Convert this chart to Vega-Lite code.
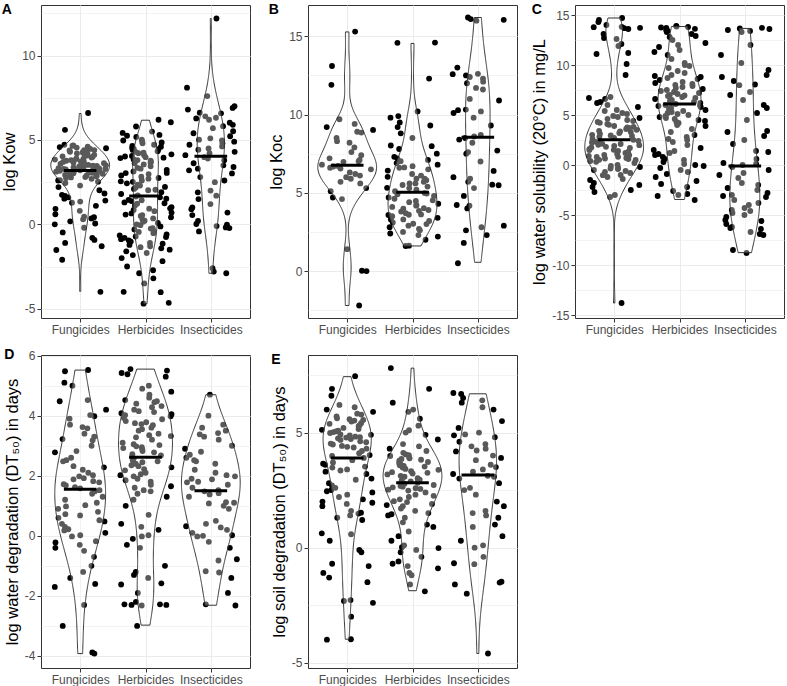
{
"$schema": "https://vega.github.io/schema/vega-lite/v6.json",
"padding": {"left": 1, "top": 2, "right": 0, "bottom": 0},
"background": "white",
"columns": 3,
"spacing": {"row": 37, "column": 58},
"bounds": "flush",
"config": {
  "font": "Liberation Sans",
  "view": {"stroke": "#333333", "strokeWidth": 1},
  "axis": {"labelFont": "Liberation Sans", "labelFontSize": 12, "labelColor": "#4D4D4D", "titleFont": "Liberation Sans", "titleFontSize": 16.5, "titleFontWeight": "normal", "titleColor": "#000000", "tickColor": "#333333", "tickSize": 4, "domain": false, "gridColor": "#EBEBEB", "gridWidth": 1, "labelPadding": 2, "labelOverlap": false, "labelFlush": false, "titlePadding": 4},
  "title": {"font": "Liberation Sans", "fontSize": 14, "fontWeight": "bold", "anchor": "start", "frame": "bounds", "offset": -12, "color": "#000000"}
},
"datasets": {
"A": [
{"g":"F","v":6.6},{"g":"F","v":5.6},{"g":"F","v":4.72},{"g":"F","v":4.66},{"g":"F","v":4.6},{"g":"F","v":4.58},{"g":"F","v":4.51},{"g":"F","v":4.47},{"g":"F","v":4.4},{"g":"F","v":4.38},{"g":"F","v":4.3},{"g":"F","v":4.27},{"g":"F","v":4.21},{"g":"F","v":4.15},{"g":"F","v":4.12},{"g":"F","v":4.03},{"g":"F","v":4.0},{"g":"F","v":3.96},{"g":"F","v":3.9},{"g":"F","v":3.84},{"g":"F","v":3.81},{"g":"F","v":3.77},{"g":"F","v":3.7},{"g":"F","v":3.66},{"g":"F","v":3.62},{"g":"F","v":3.55},{"g":"F","v":3.52},{"g":"F","v":3.48},{"g":"F","v":3.44},{"g":"F","v":3.41},{"g":"F","v":3.38},{"g":"F","v":3.36},{"g":"F","v":3.31},{"g":"F","v":3.29},{"g":"F","v":3.25},{"g":"F","v":3.22},{"g":"F","v":3.2},{"g":"F","v":3.14},{"g":"F","v":3.1},{"g":"F","v":3.06},{"g":"F","v":3.0},{"g":"F","v":2.93},{"g":"F","v":2.88},{"g":"F","v":2.8},{"g":"F","v":2.74},{"g":"F","v":2.6},{"g":"F","v":2.53},{"g":"F","v":2.45},{"g":"F","v":2.3},{"g":"F","v":2.21},{"g":"F","v":2.02},{"g":"F","v":1.83},{"g":"F","v":1.75},{"g":"F","v":1.68},{"g":"F","v":1.6},{"g":"F","v":1.52},{"g":"F","v":1.41},{"g":"F","v":1.35},{"g":"F","v":1.28},{"g":"F","v":1.1},{"g":"F","v":0.92},{"g":"F","v":0.8},{"g":"F","v":0.6},{"g":"F","v":0.45},{"g":"F","v":0.42},{"g":"F","v":0.35},{"g":"F","v":0.3},{"g":"F","v":0.18},{"g":"F","v":0.05},{"g":"F","v":0.0},{"g":"F","v":-0.2},{"g":"F","v":-0.48},{"g":"F","v":-0.8},{"g":"F","v":-0.92},{"g":"F","v":-1.1},{"g":"F","v":-1.3},{"g":"F","v":-1.52},{"g":"F","v":-2.1},{"g":"F","v":-4.0},{"g":"F","v":3.9},{"g":"F","v":4.2},{"g":"F","v":3.5},{"g":"F","v":4.4},{"g":"F","v":3.7},{"g":"F","v":2.62},{"g":"F","v":2.7},{"g":"F","v":2.78},{"g":"F","v":2.85},{"g":"F","v":2.9},{"g":"F","v":2.97},{"g":"F","v":3.03},{"g":"F","v":3.08},{"g":"F","v":3.12},{"g":"F","v":3.17},{"g":"F","v":3.28},{"g":"F","v":3.33},{"g":"F","v":3.46},{"g":"F","v":3.58},{"g":"F","v":3.72},{"g":"F","v":3.88},{"g":"F","v":4.08},{"g":"F","v":4.33},{"g":"F","v":4.55},{"g":"F","v":4.68},
{"g":"H","v":6.2},{"g":"H","v":6.05},{"g":"H","v":5.8},{"g":"H","v":5.5},{"g":"H","v":5.42},{"g":"H","v":5.3},{"g":"H","v":5.18},{"g":"H","v":5.02},{"g":"H","v":4.97},{"g":"H","v":4.9},{"g":"H","v":4.8},{"g":"H","v":4.72},{"g":"H","v":4.65},{"g":"H","v":4.6},{"g":"H","v":4.52},{"g":"H","v":4.48},{"g":"H","v":4.41},{"g":"H","v":4.33},{"g":"H","v":4.3},{"g":"H","v":4.22},{"g":"H","v":4.15},{"g":"H","v":4.1},{"g":"H","v":4.02},{"g":"H","v":3.98},{"g":"H","v":3.93},{"g":"H","v":3.85},{"g":"H","v":3.81},{"g":"H","v":3.78},{"g":"H","v":3.7},{"g":"H","v":3.62},{"g":"H","v":3.55},{"g":"H","v":3.44},{"g":"H","v":3.35},{"g":"H","v":3.22},{"g":"H","v":3.13},{"g":"H","v":3.04},{"g":"H","v":2.98},{"g":"H","v":2.9},{"g":"H","v":2.82},{"g":"H","v":2.75},{"g":"H","v":2.71},{"g":"H","v":2.6},{"g":"H","v":2.52},{"g":"H","v":2.43},{"g":"H","v":2.3},{"g":"H","v":2.22},{"g":"H","v":2.18},{"g":"H","v":2.1},{"g":"H","v":2.02},{"g":"H","v":1.91},{"g":"H","v":1.8},{"g":"H","v":1.72},{"g":"H","v":1.65},{"g":"H","v":1.6},{"g":"H","v":1.52},{"g":"H","v":1.43},{"g":"H","v":1.38},{"g":"H","v":1.3},{"g":"H","v":1.22},{"g":"H","v":1.12},{"g":"H","v":1.02},{"g":"H","v":0.93},{"g":"H","v":0.85},{"g":"H","v":0.78},{"g":"H","v":0.65},{"g":"H","v":0.58},{"g":"H","v":0.5},{"g":"H","v":0.42},{"g":"H","v":0.3},{"g":"H","v":0.22},{"g":"H","v":0.15},{"g":"H","v":0.08},{"g":"H","v":0.0},{"g":"H","v":-0.12},{"g":"H","v":-0.22},{"g":"H","v":-0.3},{"g":"H","v":-0.45},{"g":"H","v":-0.52},{"g":"H","v":-0.6},{"g":"H","v":-0.66},{"g":"H","v":-0.72},{"g":"H","v":-0.8},{"g":"H","v":-0.88},{"g":"H","v":-0.95},{"g":"H","v":-1.02},{"g":"H","v":-1.1},{"g":"H","v":-1.22},{"g":"H","v":-1.3},{"g":"H","v":-1.42},{"g":"H","v":-1.5},{"g":"H","v":-1.6},{"g":"H","v":-1.7},{"g":"H","v":-1.82},{"g":"H","v":-2.0},{"g":"H","v":-2.18},{"g":"H","v":-2.5},{"g":"H","v":-2.72},{"g":"H","v":-2.9},{"g":"H","v":-3.2},{"g":"H","v":-3.5},{"g":"H","v":-4.0},{"g":"H","v":-4.02},{"g":"H","v":-4.65},{"g":"H","v":-4.7},{"g":"H","v":4.45},{"g":"H","v":3.95},{"g":"H","v":3.65},{"g":"H","v":3.3},{"g":"H","v":2.55},{"g":"H","v":2.05},{"g":"H","v":4.85},{"g":"H","v":5.25},{"g":"H","v":3.05},{"g":"H","v":2.35},{"g":"H","v":4.05},{"g":"H","v":4.25},{"g":"H","v":1.25},{"g":"H","v":0.7},{"g":"H","v":0.35},{"g":"H","v":-0.05},{"g":"H","v":-0.4},{"g":"H","v":-0.75},{"g":"H","v":-1.15},{"g":"H","v":-1.35},{"g":"H","v":0.95},{"g":"H","v":1.45},{"g":"H","v":-0.25},{"g":"H","v":0.55},
{"g":"I","v":12.2},{"g":"I","v":8.1},{"g":"I","v":7.6},{"g":"I","v":7.0},{"g":"I","v":6.9},{"g":"I","v":6.8},{"g":"I","v":6.62},{"g":"I","v":6.58},{"g":"I","v":6.4},{"g":"I","v":6.32},{"g":"I","v":6.28},{"g":"I","v":6.2},{"g":"I","v":6.02},{"g":"I","v":5.9},{"g":"I","v":5.82},{"g":"I","v":5.7},{"g":"I","v":5.52},{"g":"I","v":5.4},{"g":"I","v":5.22},{"g":"I","v":5.1},{"g":"I","v":5.02},{"g":"I","v":4.98},{"g":"I","v":4.9},{"g":"I","v":4.8},{"g":"I","v":4.72},{"g":"I","v":4.62},{"g":"I","v":4.5},{"g":"I","v":4.42},{"g":"I","v":4.3},{"g":"I","v":4.22},{"g":"I","v":4.1},{"g":"I","v":3.98},{"g":"I","v":3.9},{"g":"I","v":3.8},{"g":"I","v":3.62},{"g":"I","v":3.5},{"g":"I","v":3.4},{"g":"I","v":3.3},{"g":"I","v":3.2},{"g":"I","v":3.02},{"g":"I","v":2.8},{"g":"I","v":2.6},{"g":"I","v":2.5},{"g":"I","v":2.0},{"g":"I","v":1.9},{"g":"I","v":1.7},{"g":"I","v":1.5},{"g":"I","v":1.2},{"g":"I","v":1.0},{"g":"I","v":0.9},{"g":"I","v":0.7},{"g":"I","v":0.55},{"g":"I","v":0.2},{"g":"I","v":0.02},{"g":"I","v":-0.02},{"g":"I","v":-0.1},{"g":"I","v":-0.18},{"g":"I","v":-0.22},{"g":"I","v":-0.42},{"g":"I","v":-2.6},{"g":"I","v":-2.8},{"g":"I","v":-2.9}
],
"B": [
{"g":"F","v":15.3},{"g":"F","v":13.1},{"g":"F","v":11.9},{"g":"F","v":9.7},{"g":"F","v":9.4},{"g":"F","v":9.2},{"g":"F","v":9.02},{"g":"F","v":8.9},{"g":"F","v":8.85},{"g":"F","v":8.5},{"g":"F","v":8.3},{"g":"F","v":8.2},{"g":"F","v":7.9},{"g":"F","v":7.6},{"g":"F","v":7.4},{"g":"F","v":7.2},{"g":"F","v":7.1},{"g":"F","v":7.02},{"g":"F","v":6.98},{"g":"F","v":6.8},{"g":"F","v":6.72},{"g":"F","v":6.68},{"g":"F","v":6.6},{"g":"F","v":6.55},{"g":"F","v":6.5},{"g":"F","v":6.3},{"g":"F","v":6.2},{"g":"F","v":6.1},{"g":"F","v":6.0},{"g":"F","v":5.9},{"g":"F","v":5.7},{"g":"F","v":5.6},{"g":"F","v":5.3},{"g":"F","v":5.1},{"g":"F","v":4.7},{"g":"F","v":4.6},{"g":"F","v":1.4},{"g":"F","v":0.0},{"g":"F","v":0.02},{"g":"F","v":-2.2},
{"g":"H","v":14.6},{"g":"H","v":14.58},{"g":"H","v":12.3},{"g":"H","v":10.2},{"g":"H","v":9.9},{"g":"H","v":9.8},{"g":"H","v":9.3},{"g":"H","v":9.2},{"g":"H","v":8.5},{"g":"H","v":8.02},{"g":"H","v":7.98},{"g":"H","v":7.5},{"g":"H","v":7.3},{"g":"H","v":7.2},{"g":"H","v":7.02},{"g":"H","v":6.9},{"g":"H","v":6.8},{"g":"H","v":6.7},{"g":"H","v":6.62},{"g":"H","v":6.5},{"g":"H","v":6.42},{"g":"H","v":6.2},{"g":"H","v":6.02},{"g":"H","v":5.9},{"g":"H","v":5.8},{"g":"H","v":5.7},{"g":"H","v":5.6},{"g":"H","v":5.5},{"g":"H","v":5.4},{"g":"H","v":5.32},{"g":"H","v":5.2},{"g":"H","v":5.1},{"g":"H","v":4.98},{"g":"H","v":4.95},{"g":"H","v":4.9},{"g":"H","v":4.8},{"g":"H","v":4.7},{"g":"H","v":4.62},{"g":"H","v":4.52},{"g":"H","v":4.48},{"g":"H","v":4.4},{"g":"H","v":4.3},{"g":"H","v":4.22},{"g":"H","v":4.18},{"g":"H","v":4.1},{"g":"H","v":4.02},{"g":"H","v":3.98},{"g":"H","v":3.9},{"g":"H","v":3.85},{"g":"H","v":3.8},{"g":"H","v":3.7},{"g":"H","v":3.62},{"g":"H","v":3.58},{"g":"H","v":3.5},{"g":"H","v":3.4},{"g":"H","v":3.3},{"g":"H","v":3.2},{"g":"H","v":3.1},{"g":"H","v":3.02},{"g":"H","v":2.9},{"g":"H","v":2.6},{"g":"H","v":2.3},{"g":"H","v":1.62},{"g":"H","v":1.6},{"g":"H","v":2.0},{"g":"H","v":2.2},{"g":"H","v":2.5},{"g":"H","v":2.7},{"g":"H","v":2.8},{"g":"H","v":3.0},{"g":"H","v":3.3},{"g":"H","v":3.6},{"g":"H","v":2.4},{"g":"H","v":5.3},{"g":"H","v":5.6},{"g":"H","v":6.1},{"g":"H","v":6.6},{"g":"H","v":7.1},{"g":"H","v":7.8},{"g":"H","v":8.8},{"g":"H","v":9.5},{"g":"H","v":5.9},
{"g":"I","v":16.2},{"g":"I","v":16.1},{"g":"I","v":16.05},{"g":"I","v":16.0},{"g":"I","v":13.0},{"g":"I","v":12.6},{"g":"I","v":12.58},{"g":"I","v":12.5},{"g":"I","v":12.4},{"g":"I","v":12.3},{"g":"I","v":12.1},{"g":"I","v":12.0},{"g":"I","v":11.7},{"g":"I","v":11.6},{"g":"I","v":11.0},{"g":"I","v":10.9},{"g":"I","v":10.32},{"g":"I","v":10.28},{"g":"I","v":10.2},{"g":"I","v":10.1},{"g":"I","v":9.8},{"g":"I","v":9.3},{"g":"I","v":8.7},{"g":"I","v":8.6},{"g":"I","v":8.5},{"g":"I","v":8.4},{"g":"I","v":8.2},{"g":"I","v":7.7},{"g":"I","v":7.6},{"g":"I","v":7.5},{"g":"I","v":7.0},{"g":"I","v":6.4},{"g":"I","v":6.0},{"g":"I","v":5.9},{"g":"I","v":5.7},{"g":"I","v":5.52},{"g":"I","v":5.48},{"g":"I","v":5.3},{"g":"I","v":4.8},{"g":"I","v":4.22},{"g":"I","v":4.18},{"g":"I","v":4.0},{"g":"I","v":2.9},{"g":"I","v":2.8},{"g":"I","v":2.6},{"g":"I","v":2.3},{"g":"I","v":1.8},{"g":"I","v":0.5}
],
"C": [
{"g":"F","v":14.7},{"g":"F","v":14.5},{"g":"F","v":14.3},{"g":"F","v":14.0},{"g":"F","v":13.82},{"g":"F","v":13.78},{"g":"F","v":13.72},{"g":"F","v":13.68},{"g":"F","v":13.6},{"g":"F","v":13.1},{"g":"F","v":12.7},{"g":"F","v":12.6},{"g":"F","v":12.1},{"g":"F","v":11.9},{"g":"F","v":11.2},{"g":"F","v":11.1},{"g":"F","v":10.1},{"g":"F","v":9.0},{"g":"F","v":6.8},{"g":"F","v":6.7},{"g":"F","v":6.6},{"g":"F","v":6.3},{"g":"F","v":6.2},{"g":"F","v":6.0},{"g":"F","v":5.8},{"g":"F","v":5.5},{"g":"F","v":5.2},{"g":"F","v":5.1},{"g":"F","v":4.9},{"g":"F","v":4.8},{"g":"F","v":4.62},{"g":"F","v":4.5},{"g":"F","v":4.4},{"g":"F","v":4.3},{"g":"F","v":4.22},{"g":"F","v":4.02},{"g":"F","v":3.9},{"g":"F","v":3.82},{"g":"F","v":3.7},{"g":"F","v":3.6},{"g":"F","v":3.52},{"g":"F","v":3.42},{"g":"F","v":3.3},{"g":"F","v":3.2},{"g":"F","v":3.12},{"g":"F","v":3.02},{"g":"F","v":2.9},{"g":"F","v":2.82},{"g":"F","v":2.7},{"g":"F","v":2.62},{"g":"F","v":2.52},{"g":"F","v":2.4},{"g":"F","v":2.32},{"g":"F","v":2.2},{"g":"F","v":2.12},{"g":"F","v":2.02},{"g":"F","v":1.98},{"g":"F","v":1.9},{"g":"F","v":1.82},{"g":"F","v":1.7},{"g":"F","v":1.62},{"g":"F","v":1.52},{"g":"F","v":1.5},{"g":"F","v":1.4},{"g":"F","v":1.32},{"g":"F","v":1.2},{"g":"F","v":1.12},{"g":"F","v":1.02},{"g":"F","v":0.98},{"g":"F","v":0.9},{"g":"F","v":0.82},{"g":"F","v":0.8},{"g":"F","v":0.7},{"g":"F","v":0.6},{"g":"F","v":0.52},{"g":"F","v":0.5},{"g":"F","v":0.4},{"g":"F","v":0.32},{"g":"F","v":0.2},{"g":"F","v":0.02},{"g":"F","v":-0.1},{"g":"F","v":-0.2},{"g":"F","v":-0.3},{"g":"F","v":-0.4},{"g":"F","v":-0.5},{"g":"F","v":-0.6},{"g":"F","v":-0.7},{"g":"F","v":-0.8},{"g":"F","v":-1.0},{"g":"F","v":-1.02},{"g":"F","v":-1.2},{"g":"F","v":-1.4},{"g":"F","v":-1.5},{"g":"F","v":-1.8},{"g":"F","v":-2.0},{"g":"F","v":-2.2},{"g":"F","v":-2.5},{"g":"F","v":-2.7},{"g":"F","v":-3.0},{"g":"F","v":-3.2},{"g":"F","v":-13.8},{"g":"F","v":3.35},{"g":"F","v":2.95},{"g":"F","v":4.1},{"g":"F","v":3.75},{"g":"F","v":4.7},{"g":"F","v":5.4},{"g":"F","v":2.1},{"g":"F","v":1.75},{"g":"F","v":1.25},{"g":"F","v":0.65},{"g":"F","v":-0.35},{"g":"F","v":2.25},
{"g":"H","v":13.92},{"g":"H","v":13.85},{"g":"H","v":13.8},{"g":"H","v":13.7},{"g":"H","v":13.62},{"g":"H","v":13.5},{"g":"H","v":13.42},{"g":"H","v":13.3},{"g":"H","v":13.1},{"g":"H","v":12.8},{"g":"H","v":12.5},{"g":"H","v":12.2},{"g":"H","v":12.0},{"g":"H","v":11.8},{"g":"H","v":11.5},{"g":"H","v":11.3},{"g":"H","v":11.0},{"g":"H","v":10.6},{"g":"H","v":10.2},{"g":"H","v":10.0},{"g":"H","v":9.7},{"g":"H","v":9.4},{"g":"H","v":9.2},{"g":"H","v":9.0},{"g":"H","v":8.8},{"g":"H","v":8.7},{"g":"H","v":8.5},{"g":"H","v":8.3},{"g":"H","v":8.2},{"g":"H","v":8.0},{"g":"H","v":7.9},{"g":"H","v":7.8},{"g":"H","v":7.7},{"g":"H","v":7.5},{"g":"H","v":7.4},{"g":"H","v":7.3},{"g":"H","v":7.2},{"g":"H","v":7.0},{"g":"H","v":6.9},{"g":"H","v":6.8},{"g":"H","v":6.7},{"g":"H","v":6.6},{"g":"H","v":6.5},{"g":"H","v":6.4},{"g":"H","v":6.3},{"g":"H","v":6.2},{"g":"H","v":6.1},{"g":"H","v":6.0},{"g":"H","v":5.9},{"g":"H","v":5.7},{"g":"H","v":5.6},{"g":"H","v":5.5},{"g":"H","v":5.4},{"g":"H","v":5.2},{"g":"H","v":5.0},{"g":"H","v":4.9},{"g":"H","v":4.8},{"g":"H","v":4.6},{"g":"H","v":4.4},{"g":"H","v":4.3},{"g":"H","v":4.2},{"g":"H","v":4.0},{"g":"H","v":3.6},{"g":"H","v":3.3},{"g":"H","v":3.0},{"g":"H","v":2.8},{"g":"H","v":2.6},{"g":"H","v":2.3},{"g":"H","v":2.0},{"g":"H","v":1.7},{"g":"H","v":1.5},{"g":"H","v":1.2},{"g":"H","v":1.1},{"g":"H","v":1.0},{"g":"H","v":0.8},{"g":"H","v":0.6},{"g":"H","v":0.5},{"g":"H","v":0.3},{"g":"H","v":0.1},{"g":"H","v":0.0},{"g":"H","v":-0.1},{"g":"H","v":-0.3},{"g":"H","v":-0.5},{"g":"H","v":-0.9},{"g":"H","v":-1.2},{"g":"H","v":-1.6},{"g":"H","v":-1.9},{"g":"H","v":-2.2},{"g":"H","v":-2.6},{"g":"H","v":-2.9},{"g":"H","v":-3.0},{"g":"H","v":-3.1},{"g":"H","v":-3.5},{"g":"H","v":7.6},{"g":"H","v":7.1},{"g":"H","v":8.1},{"g":"H","v":8.6},{"g":"H","v":6.95},{"g":"H","v":7.35},{"g":"H","v":8.9},{"g":"H","v":9.9},{"g":"H","v":12.9},{"g":"H","v":13.75},{"g":"H","v":5.8},{"g":"H","v":5.3},{"g":"H","v":4.7},{"g":"H","v":5.1},{"g":"H","v":4.5},{"g":"H","v":3.9},{"g":"H","v":2.5},{"g":"H","v":1.4},{"g":"H","v":-0.7},{"g":"H","v":5.95},
{"g":"I","v":13.72},{"g":"I","v":13.65},{"g":"I","v":13.6},{"g":"I","v":13.5},{"g":"I","v":13.4},{"g":"I","v":13.3},{"g":"I","v":12.0},{"g":"I","v":11.0},{"g":"I","v":10.2},{"g":"I","v":9.5},{"g":"I","v":9.0},{"g":"I","v":8.8},{"g":"I","v":8.4},{"g":"I","v":8.05},{"g":"I","v":7.98},{"g":"I","v":7.3},{"g":"I","v":7.0},{"g":"I","v":6.5},{"g":"I","v":6.0},{"g":"I","v":5.7},{"g":"I","v":5.2},{"g":"I","v":4.5},{"g":"I","v":3.4},{"g":"I","v":3.3},{"g":"I","v":2.9},{"g":"I","v":2.5},{"g":"I","v":2.1},{"g":"I","v":1.4},{"g":"I","v":1.3},{"g":"I","v":0.6},{"g":"I","v":0.2},{"g":"I","v":0.1},{"g":"I","v":0.0},{"g":"I","v":-0.2},{"g":"I","v":-0.5},{"g":"I","v":-0.8},{"g":"I","v":-1.0},{"g":"I","v":-1.3},{"g":"I","v":-1.8},{"g":"I","v":-2.0},{"g":"I","v":-2.3},{"g":"I","v":-2.5},{"g":"I","v":-2.8},{"g":"I","v":-3.0},{"g":"I","v":-3.1},{"g":"I","v":-3.2},{"g":"I","v":-3.5},{"g":"I","v":-3.8},{"g":"I","v":-4.0},{"g":"I","v":-4.3},{"g":"I","v":-4.5},{"g":"I","v":-4.6},{"g":"I","v":-4.8},{"g":"I","v":-5.0},{"g":"I","v":-5.2},{"g":"I","v":-5.5},{"g":"I","v":-5.6},{"g":"I","v":-5.9},{"g":"I","v":-6.2},{"g":"I","v":-6.3},{"g":"I","v":-6.4},{"g":"I","v":-6.7},{"g":"I","v":-6.9},{"g":"I","v":-7.0},{"g":"I","v":-8.5},{"g":"I","v":-8.8}
],
"D": [
{"g":"F","v":5.52},{"g":"F","v":5.48},{"g":"F","v":5.1},{"g":"F","v":5.0},{"g":"F","v":4.52},{"g":"F","v":4.48},{"g":"F","v":4.2},{"g":"F","v":4.02},{"g":"F","v":3.98},{"g":"F","v":3.9},{"g":"F","v":3.7},{"g":"F","v":3.62},{"g":"F","v":3.58},{"g":"F","v":3.4},{"g":"F","v":3.3},{"g":"F","v":3.22},{"g":"F","v":3.18},{"g":"F","v":3.0},{"g":"F","v":2.82},{"g":"F","v":2.78},{"g":"F","v":2.6},{"g":"F","v":2.52},{"g":"F","v":2.48},{"g":"F","v":2.32},{"g":"F","v":2.28},{"g":"F","v":2.2},{"g":"F","v":2.1},{"g":"F","v":2.02},{"g":"F","v":1.98},{"g":"F","v":1.92},{"g":"F","v":1.88},{"g":"F","v":1.82},{"g":"F","v":1.78},{"g":"F","v":1.72},{"g":"F","v":1.68},{"g":"F","v":1.62},{"g":"F","v":1.58},{"g":"F","v":1.52},{"g":"F","v":1.48},{"g":"F","v":1.4},{"g":"F","v":1.3},{"g":"F","v":1.2},{"g":"F","v":1.1},{"g":"F","v":1.02},{"g":"F","v":0.98},{"g":"F","v":0.9},{"g":"F","v":0.8},{"g":"F","v":0.72},{"g":"F","v":0.68},{"g":"F","v":0.6},{"g":"F","v":0.52},{"g":"F","v":0.48},{"g":"F","v":0.4},{"g":"F","v":0.3},{"g":"F","v":0.22},{"g":"F","v":0.18},{"g":"F","v":0.1},{"g":"F","v":0.02},{"g":"F","v":-0.02},{"g":"F","v":-0.18},{"g":"F","v":-0.22},{"g":"F","v":-0.3},{"g":"F","v":-0.4},{"g":"F","v":-0.5},{"g":"F","v":-0.7},{"g":"F","v":-1.0},{"g":"F","v":-1.2},{"g":"F","v":-1.4},{"g":"F","v":-1.6},{"g":"F","v":-1.7},{"g":"F","v":-2.3},{"g":"F","v":-3.0},{"g":"F","v":-3.88},{"g":"F","v":-3.92},
{"g":"H","v":5.55},{"g":"H","v":5.5},{"g":"H","v":5.42},{"g":"H","v":5.38},{"g":"H","v":5.3},{"g":"H","v":5.0},{"g":"H","v":4.9},{"g":"H","v":4.8},{"g":"H","v":4.7},{"g":"H","v":4.6},{"g":"H","v":4.52},{"g":"H","v":4.48},{"g":"H","v":4.4},{"g":"H","v":4.32},{"g":"H","v":4.28},{"g":"H","v":4.2},{"g":"H","v":4.15},{"g":"H","v":4.12},{"g":"H","v":4.08},{"g":"H","v":4.02},{"g":"H","v":3.98},{"g":"H","v":3.92},{"g":"H","v":3.88},{"g":"H","v":3.82},{"g":"H","v":3.78},{"g":"H","v":3.72},{"g":"H","v":3.68},{"g":"H","v":3.6},{"g":"H","v":3.55},{"g":"H","v":3.5},{"g":"H","v":3.4},{"g":"H","v":3.32},{"g":"H","v":3.28},{"g":"H","v":3.2},{"g":"H","v":3.1},{"g":"H","v":3.02},{"g":"H","v":2.98},{"g":"H","v":2.95},{"g":"H","v":2.92},{"g":"H","v":2.88},{"g":"H","v":2.82},{"g":"H","v":2.78},{"g":"H","v":2.72},{"g":"H","v":2.68},{"g":"H","v":2.62},{"g":"H","v":2.58},{"g":"H","v":2.52},{"g":"H","v":2.48},{"g":"H","v":2.4},{"g":"H","v":2.32},{"g":"H","v":2.28},{"g":"H","v":2.22},{"g":"H","v":2.18},{"g":"H","v":2.1},{"g":"H","v":2.02},{"g":"H","v":1.98},{"g":"H","v":1.9},{"g":"H","v":1.8},{"g":"H","v":1.7},{"g":"H","v":1.6},{"g":"H","v":1.52},{"g":"H","v":1.48},{"g":"H","v":1.4},{"g":"H","v":1.3},{"g":"H","v":1.2},{"g":"H","v":1.0},{"g":"H","v":0.7},{"g":"H","v":0.4},{"g":"H","v":0.3},{"g":"H","v":0.2},{"g":"H","v":0.02},{"g":"H","v":-0.02},{"g":"H","v":-0.1},{"g":"H","v":-0.3},{"g":"H","v":-0.4},{"g":"H","v":-1.0},{"g":"H","v":-1.2},{"g":"H","v":-1.3},{"g":"H","v":-1.4},{"g":"H","v":-1.58},{"g":"H","v":-1.62},{"g":"H","v":-1.9},{"g":"H","v":-2.2},{"g":"H","v":-2.28},{"g":"H","v":-2.3},{"g":"H","v":-2.32},{"g":"H","v":-2.3},{"g":"H","v":-2.28},{"g":"H","v":-3.0},{"g":"H","v":3.75},{"g":"H","v":4.05},{"g":"H","v":3.35},{"g":"H","v":3.05},{"g":"H","v":4.45},{"g":"H","v":2.35},{"g":"H","v":1.85},{"g":"H","v":2.05},{"g":"H","v":1.65},{"g":"H","v":2.45},
{"g":"I","v":4.7},{"g":"I","v":4.0},{"g":"I","v":3.7},{"g":"I","v":3.6},{"g":"I","v":3.5},{"g":"I","v":3.42},{"g":"I","v":3.38},{"g":"I","v":3.3},{"g":"I","v":3.2},{"g":"I","v":3.0},{"g":"I","v":2.9},{"g":"I","v":2.8},{"g":"I","v":2.7},{"g":"I","v":2.6},{"g":"I","v":2.52},{"g":"I","v":2.48},{"g":"I","v":2.4},{"g":"I","v":2.2},{"g":"I","v":2.1},{"g":"I","v":2.02},{"g":"I","v":1.98},{"g":"I","v":1.9},{"g":"I","v":1.88},{"g":"I","v":1.8},{"g":"I","v":1.78},{"g":"I","v":1.7},{"g":"I","v":1.6},{"g":"I","v":1.52},{"g":"I","v":1.48},{"g":"I","v":1.42},{"g":"I","v":1.38},{"g":"I","v":1.3},{"g":"I","v":1.12},{"g":"I","v":1.1},{"g":"I","v":1.08},{"g":"I","v":1.0},{"g":"I","v":0.9},{"g":"I","v":0.5},{"g":"I","v":0.4},{"g":"I","v":0.32},{"g":"I","v":0.28},{"g":"I","v":0.2},{"g":"I","v":0.1},{"g":"I","v":0.02},{"g":"I","v":0.0},{"g":"I","v":-0.02},{"g":"I","v":-0.2},{"g":"I","v":-0.4},{"g":"I","v":-0.78},{"g":"I","v":-0.82},{"g":"I","v":-1.18},{"g":"I","v":-1.22},{"g":"I","v":-1.4},{"g":"I","v":-1.9},{"g":"I","v":-2.28},{"g":"I","v":-2.32}
],
"E": [
{"g":"F","v":7.45},{"g":"F","v":6.9},{"g":"F","v":6.6},{"g":"F","v":6.2},{"g":"F","v":6.1},{"g":"F","v":6.0},{"g":"F","v":5.9},{"g":"F","v":5.82},{"g":"F","v":5.78},{"g":"F","v":5.7},{"g":"F","v":5.62},{"g":"F","v":5.58},{"g":"F","v":5.52},{"g":"F","v":5.48},{"g":"F","v":5.42},{"g":"F","v":5.38},{"g":"F","v":5.32},{"g":"F","v":5.28},{"g":"F","v":5.2},{"g":"F","v":5.12},{"g":"F","v":5.08},{"g":"F","v":5.02},{"g":"F","v":4.98},{"g":"F","v":4.92},{"g":"F","v":4.9},{"g":"F","v":4.88},{"g":"F","v":4.82},{"g":"F","v":4.8},{"g":"F","v":4.78},{"g":"F","v":4.72},{"g":"F","v":4.68},{"g":"F","v":4.62},{"g":"F","v":4.58},{"g":"F","v":4.52},{"g":"F","v":4.48},{"g":"F","v":4.42},{"g":"F","v":4.38},{"g":"F","v":4.3},{"g":"F","v":4.2},{"g":"F","v":4.1},{"g":"F","v":4.02},{"g":"F","v":3.98},{"g":"F","v":3.9},{"g":"F","v":3.8},{"g":"F","v":3.7},{"g":"F","v":3.6},{"g":"F","v":3.52},{"g":"F","v":3.48},{"g":"F","v":3.4},{"g":"F","v":3.3},{"g":"F","v":3.2},{"g":"F","v":3.0},{"g":"F","v":2.8},{"g":"F","v":2.7},{"g":"F","v":2.6},{"g":"F","v":2.5},{"g":"F","v":2.4},{"g":"F","v":2.3},{"g":"F","v":2.2},{"g":"F","v":2.1},{"g":"F","v":2.0},{"g":"F","v":1.9},{"g":"F","v":1.8},{"g":"F","v":1.6},{"g":"F","v":1.52},{"g":"F","v":1.48},{"g":"F","v":1.4},{"g":"F","v":1.3},{"g":"F","v":1.2},{"g":"F","v":0.62},{"g":"F","v":0.58},{"g":"F","v":0.3},{"g":"F","v":-0.1},{"g":"F","v":-0.2},{"g":"F","v":-0.7},{"g":"F","v":-0.8},{"g":"F","v":-1.1},{"g":"F","v":-1.3},{"g":"F","v":-1.5},{"g":"F","v":-2.28},{"g":"F","v":-2.32},{"g":"F","v":-2.4},{"g":"F","v":-3.0},{"g":"F","v":-3.98},{"g":"F","v":-4.0},{"g":"F","v":5.15},{"g":"F","v":4.75},{"g":"F","v":5.55},{"g":"F","v":4.35},{"g":"F","v":5.05},{"g":"F","v":3.35},{"g":"F","v":2.95},{"g":"F","v":3.65},{"g":"F","v":2.45},{"g":"F","v":1.95},
{"g":"H","v":7.8},{"g":"H","v":6.9},{"g":"H","v":6.3},{"g":"H","v":6.0},{"g":"H","v":5.9},{"g":"H","v":5.6},{"g":"H","v":5.3},{"g":"H","v":5.1},{"g":"H","v":5.0},{"g":"H","v":4.9},{"g":"H","v":4.7},{"g":"H","v":4.5},{"g":"H","v":4.4},{"g":"H","v":4.3},{"g":"H","v":4.2},{"g":"H","v":4.12},{"g":"H","v":4.02},{"g":"H","v":3.98},{"g":"H","v":3.92},{"g":"H","v":3.88},{"g":"H","v":3.82},{"g":"H","v":3.78},{"g":"H","v":3.72},{"g":"H","v":3.68},{"g":"H","v":3.62},{"g":"H","v":3.58},{"g":"H","v":3.52},{"g":"H","v":3.48},{"g":"H","v":3.42},{"g":"H","v":3.38},{"g":"H","v":3.32},{"g":"H","v":3.28},{"g":"H","v":3.22},{"g":"H","v":3.18},{"g":"H","v":3.12},{"g":"H","v":3.08},{"g":"H","v":3.02},{"g":"H","v":2.98},{"g":"H","v":2.92},{"g":"H","v":2.88},{"g":"H","v":2.82},{"g":"H","v":2.78},{"g":"H","v":2.72},{"g":"H","v":2.68},{"g":"H","v":2.62},{"g":"H","v":2.58},{"g":"H","v":2.52},{"g":"H","v":2.48},{"g":"H","v":2.4},{"g":"H","v":2.3},{"g":"H","v":2.2},{"g":"H","v":2.1},{"g":"H","v":2.02},{"g":"H","v":1.98},{"g":"H","v":1.9},{"g":"H","v":1.8},{"g":"H","v":1.7},{"g":"H","v":1.6},{"g":"H","v":1.5},{"g":"H","v":1.4},{"g":"H","v":1.3},{"g":"H","v":1.1},{"g":"H","v":1.0},{"g":"H","v":0.9},{"g":"H","v":0.7},{"g":"H","v":0.5},{"g":"H","v":0.3},{"g":"H","v":0.1},{"g":"H","v":0.02},{"g":"H","v":-0.02},{"g":"H","v":-0.1},{"g":"H","v":-0.2},{"g":"H","v":-0.4},{"g":"H","v":-0.6},{"g":"H","v":-0.7},{"g":"H","v":-0.8},{"g":"H","v":-0.9},{"g":"H","v":-1.1},{"g":"H","v":-1.2},{"g":"H","v":-1.6},{"g":"H","v":-1.9},{"g":"H","v":3.55},{"g":"H","v":3.25},{"g":"H","v":2.95},{"g":"H","v":3.85},{"g":"H","v":4.05},{"g":"H","v":2.55},{"g":"H","v":2.25},{"g":"H","v":1.85},{"g":"H","v":2.65},{"g":"H","v":1.45},
{"g":"I","v":6.72},{"g":"I","v":6.68},{"g":"I","v":6.5},{"g":"I","v":6.4},{"g":"I","v":6.3},{"g":"I","v":6.1},{"g":"I","v":6.0},{"g":"I","v":5.5},{"g":"I","v":5.2},{"g":"I","v":5.0},{"g":"I","v":4.92},{"g":"I","v":4.88},{"g":"I","v":4.8},{"g":"I","v":4.6},{"g":"I","v":4.5},{"g":"I","v":4.4},{"g":"I","v":4.3},{"g":"I","v":4.22},{"g":"I","v":4.18},{"g":"I","v":4.0},{"g":"I","v":3.9},{"g":"I","v":3.8},{"g":"I","v":3.6},{"g":"I","v":3.5},{"g":"I","v":3.4},{"g":"I","v":3.3},{"g":"I","v":3.2},{"g":"I","v":3.12},{"g":"I","v":3.08},{"g":"I","v":3.0},{"g":"I","v":2.8},{"g":"I","v":2.6},{"g":"I","v":2.5},{"g":"I","v":2.3},{"g":"I","v":2.0},{"g":"I","v":1.8},{"g":"I","v":1.6},{"g":"I","v":1.5},{"g":"I","v":1.4},{"g":"I","v":1.3},{"g":"I","v":1.0},{"g":"I","v":0.9},{"g":"I","v":0.5},{"g":"I","v":0.3},{"g":"I","v":0.1},{"g":"I","v":0.0},{"g":"I","v":-0.4},{"g":"I","v":-0.68},{"g":"I","v":-0.72},{"g":"I","v":-1.48},{"g":"I","v":-1.52},{"g":"I","v":-1.6},{"g":"I","v":-2.0},{"g":"I","v":-4.6}
]
},
"concat": [
{
 "data": {"name": "A"}, "width": 209, "height": 313, "title": "A",
 "encoding": {
  "x": {"field": "x", "type": "quantitative", "scale": {"domain": [0.4, 3.6], "nice": false, "zero": false}, "axis": {"values": [1, 2, 3], "labelExpr": "['Fungicides','Herbicides','Insecticides'][datum.value - 1]", "title": null}},
  "y": {"field": "v", "type": "quantitative", "scale": {"domain": [-5.55, 13.0], "nice": false, "zero": false}, "axis": {"title": "log Kow", "values": [-5, -2.5, 0, 2.5, 5, 7.5, 10, 12.5], "labelExpr": "datum.value % 5 === 0 ? '' + datum.value : ''", "tickOpacity": {"condition": {"test": "datum.value % 5 !== 0", "value": 0}, "value": 1}, "gridWidth": {"condition": {"test": "datum.value % 5 !== 0", "value": 0.6}, "value": 1}}}
 },
 "layer": [
  {"transform": [{"window": [{"op": "row_number", "as": "rn"}]}, {"calculate": "indexof(['F','H','I'], datum.g) + 1 + 0.8 * ((abs(sin(datum.rn * 12.9898 + 4.1)) * 43758.5453) % 1 - 0.5)", "as": "x"}],
   "mark": {"type": "circle", "size": 34, "color": "#000000", "opacity": 1, "clip": true}},
  {"transform": [{"joinaggregate": [{"op": "min", "field": "v", "as": "mn"}, {"op": "max", "field": "v", "as": "mx"}], "groupby": ["g"]}, {"density": "v", "groupby": ["g", "mn", "mx"], "steps": 300, "as": ["v", "d"]}, {"filter": "datum.v >= datum.mn && datum.v <= datum.mx"}, {"joinaggregate": [{"op": "max", "field": "d", "as": "dm"}]}, {"calculate": "indexof(['F','H','I'], datum.g) + 1 - 0.45 * datum.d / datum.dm", "as": "x"}, {"calculate": "indexof(['F','H','I'], datum.g) + 1 + 0.45 * datum.d / datum.dm", "as": "x2"}],
   "mark": {"type": "area", "orient": "horizontal", "fill": "#FFFFFF", "fillOpacity": 0.35, "stroke": "#333333", "strokeWidth": 1},
   "encoding": {"x2": {"field": "x2"}, "detail": {"field": "g"}}},
  {"transform": [{"aggregate": [{"op": "median", "field": "v", "as": "v"}], "groupby": ["g"]}, {"calculate": "indexof(['F','H','I'], datum.g) + 1 - 0.25", "as": "x"}, {"calculate": "indexof(['F','H','I'], datum.g) + 1 + 0.25", "as": "x2"}],
   "mark": {"type": "rule", "color": "#000000", "strokeWidth": 3},
   "encoding": {"x2": {"field": "x2"}}}
 ]
},
{
 "data": {"name": "B"}, "width": 209, "height": 313, "title": "B",
 "encoding": {
  "x": {"field": "x", "type": "quantitative", "scale": {"domain": [0.4, 3.6], "nice": false, "zero": false}, "axis": {"values": [1, 2, 3], "labelExpr": "['Fungicides','Herbicides','Insecticides'][datum.value - 1]", "title": null}},
  "y": {"field": "v", "type": "quantitative", "scale": {"domain": [-3.0, 17.0], "nice": false, "zero": false}, "axis": {"title": "log Koc", "values": [-2.5, 0, 2.5, 5, 7.5, 10, 12.5, 15], "labelExpr": "datum.value % 5 === 0 ? '' + datum.value : ''", "tickOpacity": {"condition": {"test": "datum.value % 5 !== 0", "value": 0}, "value": 1}, "gridWidth": {"condition": {"test": "datum.value % 5 !== 0", "value": 0.6}, "value": 1}}}
 },
 "layer": [
  {"transform": [{"window": [{"op": "row_number", "as": "rn"}]}, {"calculate": "indexof(['F','H','I'], datum.g) + 1 + 0.8 * ((abs(sin(datum.rn * 12.9898 + 4.1)) * 43758.5453) % 1 - 0.5)", "as": "x"}],
   "mark": {"type": "circle", "size": 34, "color": "#000000", "opacity": 1, "clip": true}},
  {"transform": [{"joinaggregate": [{"op": "min", "field": "v", "as": "mn"}, {"op": "max", "field": "v", "as": "mx"}], "groupby": ["g"]}, {"density": "v", "groupby": ["g", "mn", "mx"], "steps": 300, "as": ["v", "d"]}, {"filter": "datum.v >= datum.mn && datum.v <= datum.mx"}, {"joinaggregate": [{"op": "max", "field": "d", "as": "dm"}]}, {"calculate": "indexof(['F','H','I'], datum.g) + 1 - 0.45 * datum.d / datum.dm", "as": "x"}, {"calculate": "indexof(['F','H','I'], datum.g) + 1 + 0.45 * datum.d / datum.dm", "as": "x2"}],
   "mark": {"type": "area", "orient": "horizontal", "fill": "#FFFFFF", "fillOpacity": 0.35, "stroke": "#333333", "strokeWidth": 1},
   "encoding": {"x2": {"field": "x2"}, "detail": {"field": "g"}}},
  {"transform": [{"aggregate": [{"op": "median", "field": "v", "as": "v"}], "groupby": ["g"]}, {"calculate": "indexof(['F','H','I'], datum.g) + 1 - 0.25", "as": "x"}, {"calculate": "indexof(['F','H','I'], datum.g) + 1 + 0.25", "as": "x2"}],
   "mark": {"type": "rule", "color": "#000000", "strokeWidth": 3},
   "encoding": {"x2": {"field": "x2"}}}
 ]
},
{
 "data": {"name": "C"}, "width": 209, "height": 313, "title": "C",
 "encoding": {
  "x": {"field": "x", "type": "quantitative", "scale": {"domain": [0.4, 3.6], "nice": false, "zero": false}, "axis": {"values": [1, 2, 3], "labelExpr": "['Fungicides','Herbicides','Insecticides'][datum.value - 1]", "title": null}},
  "y": {"field": "v", "type": "quantitative", "scale": {"domain": [-15.3, 16.0], "nice": false, "zero": false}, "axis": {"title": "log water solubility (20°C) in mg/L", "values": [-15, -12.5, -10, -7.5, -5, -2.5, 0, 2.5, 5, 7.5, 10, 12.5, 15], "labelExpr": "datum.value % 5 === 0 ? '' + datum.value : ''", "tickOpacity": {"condition": {"test": "datum.value % 5 !== 0", "value": 0}, "value": 1}, "gridWidth": {"condition": {"test": "datum.value % 5 !== 0", "value": 0.6}, "value": 1}}}
 },
 "layer": [
  {"transform": [{"window": [{"op": "row_number", "as": "rn"}]}, {"calculate": "indexof(['F','H','I'], datum.g) + 1 + 0.8 * ((abs(sin(datum.rn * 12.9898 + 4.1)) * 43758.5453) % 1 - 0.5)", "as": "x"}],
   "mark": {"type": "circle", "size": 34, "color": "#000000", "opacity": 1, "clip": true}},
  {"transform": [{"joinaggregate": [{"op": "min", "field": "v", "as": "mn"}, {"op": "max", "field": "v", "as": "mx"}], "groupby": ["g"]}, {"density": "v", "groupby": ["g", "mn", "mx"], "steps": 300, "as": ["v", "d"]}, {"filter": "datum.v >= datum.mn && datum.v <= datum.mx"}, {"joinaggregate": [{"op": "max", "field": "d", "as": "dm"}]}, {"calculate": "indexof(['F','H','I'], datum.g) + 1 - 0.45 * datum.d / datum.dm", "as": "x"}, {"calculate": "indexof(['F','H','I'], datum.g) + 1 + 0.45 * datum.d / datum.dm", "as": "x2"}],
   "mark": {"type": "area", "orient": "horizontal", "fill": "#FFFFFF", "fillOpacity": 0.35, "stroke": "#333333", "strokeWidth": 1},
   "encoding": {"x2": {"field": "x2"}, "detail": {"field": "g"}}},
  {"transform": [{"aggregate": [{"op": "median", "field": "v", "as": "v"}], "groupby": ["g"]}, {"calculate": "indexof(['F','H','I'], datum.g) + 1 - 0.25", "as": "x"}, {"calculate": "indexof(['F','H','I'], datum.g) + 1 + 0.25", "as": "x2"}],
   "mark": {"type": "rule", "color": "#000000", "strokeWidth": 3},
   "encoding": {"x2": {"field": "x2"}}}
 ]
},
{
 "data": {"name": "D"}, "width": 209, "height": 313, "title": "D",
 "encoding": {
  "x": {"field": "x", "type": "quantitative", "scale": {"domain": [0.4, 3.6], "nice": false, "zero": false}, "axis": {"values": [1, 2, 3], "labelExpr": "['Fungicides','Herbicides','Insecticides'][datum.value - 1]", "title": null}},
  "y": {"field": "v", "type": "quantitative", "scale": {"domain": [-4.4, 6.02], "nice": false, "zero": false}, "axis": {"title": "log water degradation  (DT₅₀)  in days", "values": [-4, -3, -2, -1, 0, 1, 2, 3, 4, 5, 6], "labelExpr": "datum.value % 2 === 0 ? '' + datum.value : ''", "tickOpacity": {"condition": {"test": "datum.value % 2 !== 0", "value": 0}, "value": 1}, "gridWidth": {"condition": {"test": "datum.value % 2 !== 0", "value": 0.6}, "value": 1}}}
 },
 "layer": [
  {"transform": [{"window": [{"op": "row_number", "as": "rn"}]}, {"calculate": "indexof(['F','H','I'], datum.g) + 1 + 0.8 * ((abs(sin(datum.rn * 12.9898 + 4.1)) * 43758.5453) % 1 - 0.5)", "as": "x"}],
   "mark": {"type": "circle", "size": 34, "color": "#000000", "opacity": 1, "clip": true}},
  {"transform": [{"joinaggregate": [{"op": "min", "field": "v", "as": "mn"}, {"op": "max", "field": "v", "as": "mx"}], "groupby": ["g"]}, {"density": "v", "groupby": ["g", "mn", "mx"], "steps": 300, "as": ["v", "d"]}, {"filter": "datum.v >= datum.mn && datum.v <= datum.mx"}, {"joinaggregate": [{"op": "max", "field": "d", "as": "dm"}]}, {"calculate": "indexof(['F','H','I'], datum.g) + 1 - 0.45 * datum.d / datum.dm", "as": "x"}, {"calculate": "indexof(['F','H','I'], datum.g) + 1 + 0.45 * datum.d / datum.dm", "as": "x2"}],
   "mark": {"type": "area", "orient": "horizontal", "fill": "#FFFFFF", "fillOpacity": 0.35, "stroke": "#333333", "strokeWidth": 1},
   "encoding": {"x2": {"field": "x2"}, "detail": {"field": "g"}}},
  {"transform": [{"aggregate": [{"op": "median", "field": "v", "as": "v"}], "groupby": ["g"]}, {"calculate": "indexof(['F','H','I'], datum.g) + 1 - 0.25", "as": "x"}, {"calculate": "indexof(['F','H','I'], datum.g) + 1 + 0.25", "as": "x2"}],
   "mark": {"type": "rule", "color": "#000000", "strokeWidth": 3},
   "encoding": {"x2": {"field": "x2"}}}
 ]
},
{
 "data": {"name": "E"}, "width": 209, "height": 313, "title": "E",
 "encoding": {
  "x": {"field": "x", "type": "quantitative", "scale": {"domain": [0.4, 3.6], "nice": false, "zero": false}, "axis": {"values": [1, 2, 3], "labelExpr": "['Fungicides','Herbicides','Insecticides'][datum.value - 1]", "title": null}},
  "y": {"field": "v", "type": "quantitative", "scale": {"domain": [-5.23, 8.37], "nice": false, "zero": false}, "axis": {"title": "log soil degradation  (DT₅₀)  in days", "values": [-5, -2.5, 0, 2.5, 5, 7.5], "labelExpr": "datum.value % 5 === 0 ? '' + datum.value : ''", "tickOpacity": {"condition": {"test": "datum.value % 5 !== 0", "value": 0}, "value": 1}, "gridWidth": {"condition": {"test": "datum.value % 5 !== 0", "value": 0.6}, "value": 1}}}
 },
 "layer": [
  {"transform": [{"window": [{"op": "row_number", "as": "rn"}]}, {"calculate": "indexof(['F','H','I'], datum.g) + 1 + 0.8 * ((abs(sin(datum.rn * 12.9898 + 4.1)) * 43758.5453) % 1 - 0.5)", "as": "x"}],
   "mark": {"type": "circle", "size": 34, "color": "#000000", "opacity": 1, "clip": true}},
  {"transform": [{"joinaggregate": [{"op": "min", "field": "v", "as": "mn"}, {"op": "max", "field": "v", "as": "mx"}], "groupby": ["g"]}, {"density": "v", "groupby": ["g", "mn", "mx"], "steps": 300, "as": ["v", "d"]}, {"filter": "datum.v >= datum.mn && datum.v <= datum.mx"}, {"joinaggregate": [{"op": "max", "field": "d", "as": "dm"}]}, {"calculate": "indexof(['F','H','I'], datum.g) + 1 - 0.45 * datum.d / datum.dm", "as": "x"}, {"calculate": "indexof(['F','H','I'], datum.g) + 1 + 0.45 * datum.d / datum.dm", "as": "x2"}],
   "mark": {"type": "area", "orient": "horizontal", "fill": "#FFFFFF", "fillOpacity": 0.35, "stroke": "#333333", "strokeWidth": 1},
   "encoding": {"x2": {"field": "x2"}, "detail": {"field": "g"}}},
  {"transform": [{"aggregate": [{"op": "median", "field": "v", "as": "v"}], "groupby": ["g"]}, {"calculate": "indexof(['F','H','I'], datum.g) + 1 - 0.25", "as": "x"}, {"calculate": "indexof(['F','H','I'], datum.g) + 1 + 0.25", "as": "x2"}],
   "mark": {"type": "rule", "color": "#000000", "strokeWidth": 3},
   "encoding": {"x2": {"field": "x2"}}}
 ]
}
]
}
